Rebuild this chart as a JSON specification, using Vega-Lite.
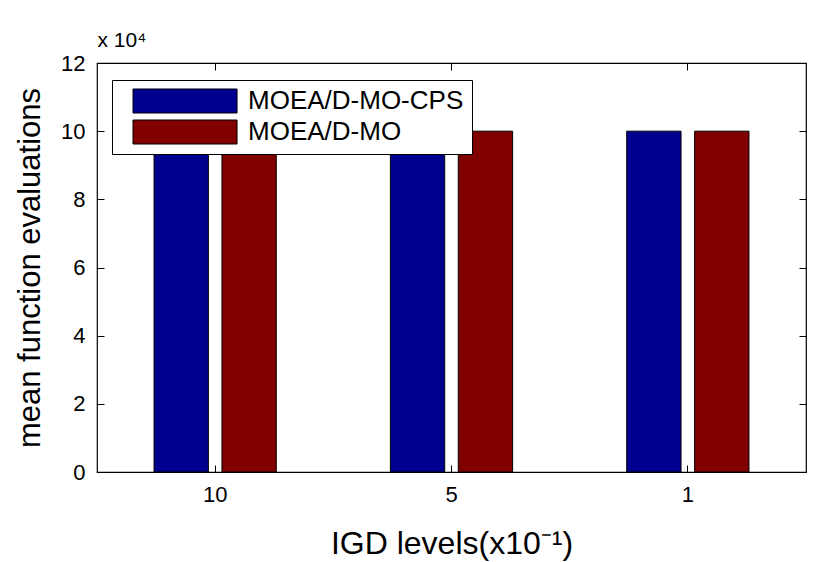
{
  "$schema": "https://vega.github.io/schema/vega-lite/v6.json",
  "width": 709,
  "height": 409,
  "autosize": {"type": "none"},
  "padding": {"left": 97, "top": 63, "right": 24, "bottom": 90},
  "background": "white",
  "config": {
    "font": "Liberation Sans",
    "view": {"stroke": "black", "strokeWidth": 1.2},
    "axis": {"domain": false, "grid": false, "tickColor": "black", "tickSize": -7, "labelColor": "black", "labelFontSize": 22, "titleColor": "black", "titleFontSize": 31, "titleFontWeight": "normal"}
  },
  "data": {"values": [
    {"level": "10", "method": "MOEA/D-MO-CPS", "value": 10},
    {"level": "10", "method": "MOEA/D-MO", "value": 10},
    {"level": "5", "method": "MOEA/D-MO-CPS", "value": 10},
    {"level": "5", "method": "MOEA/D-MO", "value": 10},
    {"level": "1", "method": "MOEA/D-MO-CPS", "value": 10},
    {"level": "1", "method": "MOEA/D-MO", "value": 10}
  ]},
  "layer": [
    {
      "mark": {"type": "bar", "stroke": "black", "strokeWidth": 1},
      "encoding": {
        "x": {"field": "level", "type": "nominal", "sort": ["10", "5", "1"], "scale": {"paddingInner": 0, "paddingOuter": 0},
          "axis": {"orient": "bottom", "labelAngle": 0, "labelPadding": 19, "title": "IGD levels(x10⁻¹)", "titleFontSize": 32, "titlePadding": 23}},
        "xOffset": {"field": "method", "type": "nominal", "sort": ["MOEA/D-MO-CPS", "MOEA/D-MO"], "scale": {"paddingInner": 0.2, "paddingOuter": 0.84}},
        "y": {"field": "value", "type": "quantitative", "scale": {"domain": [0, 12], "nice": false},
          "axis": {"orient": "left", "values": [0, 2, 4, 6, 8, 10, 12], "labelPadding": 19, "title": "mean function evaluations", "titlePadding": 14}},
        "color": {"field": "method", "type": "nominal", "sort": ["MOEA/D-MO-CPS", "MOEA/D-MO"],
          "scale": {"domain": ["MOEA/D-MO-CPS", "MOEA/D-MO"], "range": ["#00008F", "#800000"]},
          "legend": {"title": null, "orient": "none", "legendX": 15, "legendY": 17, "direction": "vertical",
            "symbolType": "M0,-1H8.67V1H0Z", "symbolSize": 576, "symbolStrokeColor": "black", "symbolStrokeWidth": 1, "symbolOpacity": 1,
            "labelFontSize": 26, "labelColor": "black", "labelOffset": 102, "labelLimit": 0, "rowPadding": 3, "padding": 8,
            "strokeColor": "black", "fillColor": "white"}}
      }
    },
    {
      "mark": {"type": "bar", "opacity": 0},
      "encoding": {
        "x": {"field": "level", "type": "nominal", "sort": ["10", "5", "1"],
          "axis": {"orient": "top", "labels": false, "title": "x 10⁴", "titleAnchor": "start", "titleAlign": "left", "titleFontSize": 21, "titlePadding": 12}},
        "y": {"field": "value", "type": "quantitative", "axis": {"orient": "right", "values": [0, 2, 4, 6, 8, 10, 12], "labels": false, "title": null}}
      }
    }
  ],
  "resolve": {"axis": {"x": "independent", "y": "independent"}}
}
